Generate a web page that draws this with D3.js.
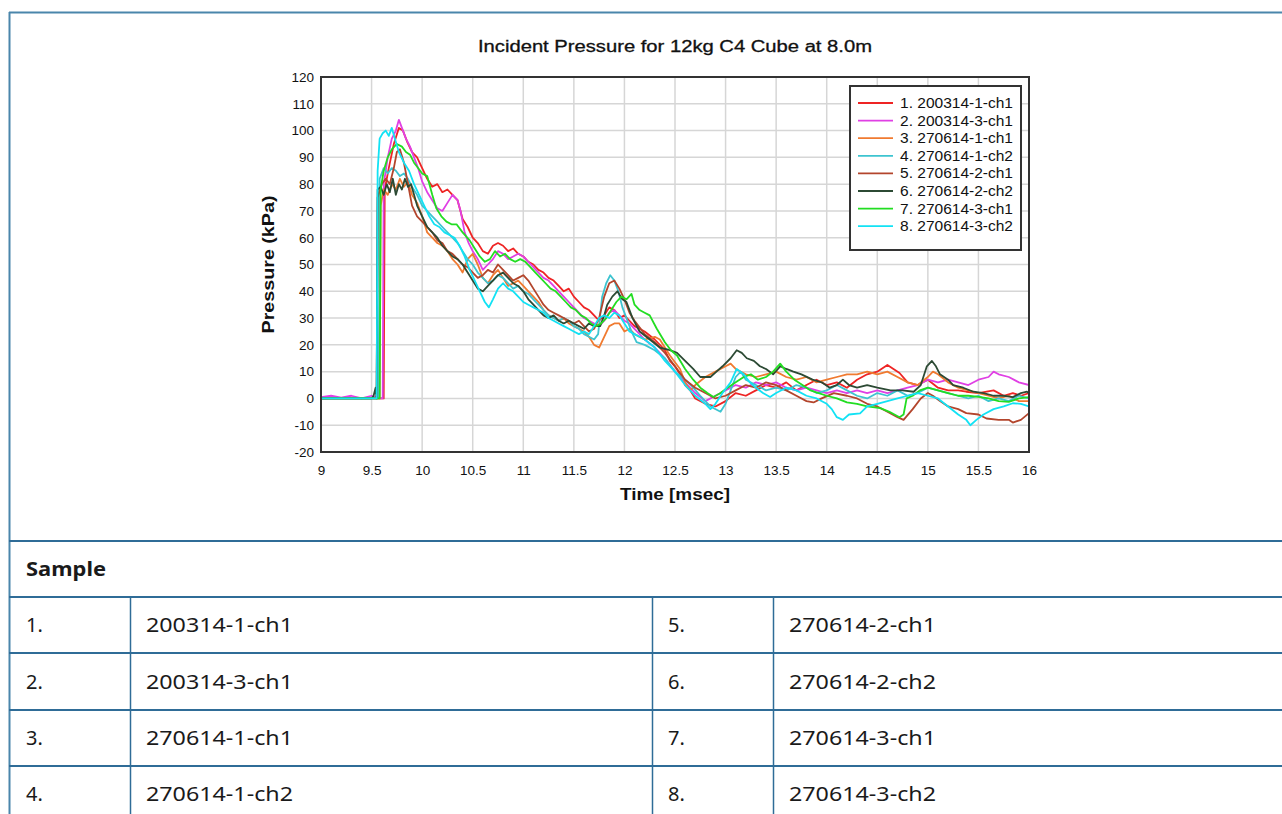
<!DOCTYPE html>
<meta charset="utf-8">
<style>
body { margin: 0; background: #fff; }
svg { display: block; }
.chart text { font-family: "Liberation Sans", Arial, sans-serif; fill: #111; }
.table text { font-family: "Noto Sans", "Open Sans", sans-serif; fill: #1a1a1a; }
.grid line { stroke: #d6d6d6; stroke-width: 1.5px; }
.series path { fill: none; stroke-width: 1.8px; stroke-linejoin: round; }
</style>
<svg width="1282" height="814"></svg>
<script src="https://d3js.org/d3.v7.min.js"></script>
<script>

const sampleNames = ["200314-1-ch1", "200314-3-ch1", "270614-1-ch1", "270614-1-ch2",
  "270614-2-ch1", "270614-2-ch2", "270614-3-ch1", "270614-3-ch2"];
const sampleColors = ["#ee2424", "#e040e4", "#f07a30", "#3ec4d0", "#b3452c", "#2c4a34", "#22dd22", "#12e2f4"];

const xTicks = [9, 9.5, 10, 10.5, 11, 11.5, 12, 12.5, 13, 13.5, 14, 14.5, 15, 15.5, 16];
const yTicks = [-20, -10, 0, 10, 20, 30, 40, 50, 60, 70, 80, 90, 100, 110, 120];

// [time msec, pressure kPa]
const s1 = [[9,0],[9.3,0.3],[9.6,0],[9.62,0],[9.63,78],[9.67,86],[9.72,95],[9.77,101],[9.81,100],[9.85,96],[9.9,92],[9.95,90],[10.0,86],[10.05,82],[10.1,79],[10.15,80],[10.2,77],[10.25,78],[10.3,76],[10.35,74],[10.4,67],[10.45,64],[10.5,60],[10.55,58],[10.6,55],[10.65,54],[10.7,57],[10.75,58],[10.8,57],[10.85,55],[10.9,56],[10.95,54],[11.0,53],[11.05,51],[11.1,50],[11.15,48],[11.2,47],[11.25,45],[11.3,44],[11.35,42],[11.4,40],[11.45,41],[11.5,38],[11.55,36],[11.6,34],[11.65,33],[11.7,31],[11.75,29],[11.8,31],[11.85,34],[11.9,33],[11.95,30],[12.0,31],[12.05,29],[12.1,27],[12.2,25],[12.3,22],[12.4,18],[12.45,14],[12.5,12],[12.55,9],[12.6,5],[12.65,3],[12.7,0],[12.8,-2],[12.9,-3],[13.0,-1],[13.1,2],[13.2,1],[13.3,3],[13.4,5],[13.5,4],[13.6,6],[13.7,3],[13.8,5],[13.9,7],[14.0,5],[14.1,6],[14.2,4],[14.3,7],[14.4,9],[14.5,10],[14.6,12.5],[14.66,11],[14.72,9.5],[14.8,6],[14.9,5],[15.0,7],[15.1,4],[15.2,3],[15.3,3],[15.38,2.5],[15.5,2],[15.65,3],[15.75,1],[15.84,2],[15.92,1],[16.0,2]];
const s2 = [[9,0.5],[9.1,1],[9.2,0.3],[9.3,1],[9.4,0],[9.5,1],[9.58,0],[9.61,0],[9.62,80],[9.66,90],[9.7,97],[9.74,100],[9.77,104],[9.8,101],[9.84,97],[9.88,94],[9.92,90],[9.96,86],[10.0,81],[10.05,77],[10.1,74],[10.15,71],[10.2,70],[10.25,73],[10.3,76],[10.35,74],[10.38,70],[10.42,62],[10.46,58],[10.5,55],[10.55,52],[10.6,48],[10.65,50],[10.7,52],[10.75,55],[10.8,54],[10.85,52],[10.9,53],[10.95,54],[11.0,53],[11.05,51],[11.1,49],[11.15,47],[11.2,45],[11.25,44],[11.3,42],[11.35,40],[11.4,38],[11.45,36],[11.5,34],[11.55,32],[11.6,30],[11.65,29],[11.7,28],[11.75,27],[11.8,29],[11.85,32],[11.9,33],[11.95,31],[12.0,29],[12.05,28],[12.1,26],[12.2,22],[12.3,19],[12.4,15],[12.5,10],[12.6,6],[12.7,2],[12.8,-1],[12.9,1],[13.0,3],[13.1,5],[13.2,4],[13.3,6],[13.4,5],[13.5,6],[13.6,4],[13.7,3],[13.8,4],[13.9,3],[14.0,2],[14.1,3],[14.2,2],[14.3,3],[14.4,2],[14.5,3],[14.6,2],[14.7,3],[14.8,4],[14.9,5],[15.0,7],[15.1,6],[15.2,7],[15.3,6],[15.4,5],[15.5,7],[15.6,8],[15.65,10],[15.7,9],[15.8,8],[15.9,6],[16.0,5]];
const s3 = [[9,0],[9.5,0],[9.58,0],[9.59,72],[9.62,78],[9.66,76],[9.7,80],[9.74,78],[9.78,82],[9.82,79],[9.86,81],[9.9,76],[9.95,73],[10.0,68],[10.05,62],[10.1,60],[10.15,58],[10.2,57],[10.25,55],[10.3,52],[10.35,50],[10.4,47],[10.45,52],[10.5,54],[10.55,50],[10.6,45],[10.65,43],[10.7,46],[10.75,48],[10.8,45],[10.85,42],[10.9,43],[10.95,44],[11.0,42],[11.05,40],[11.1,38],[11.15,36],[11.2,33],[11.25,31],[11.3,30],[11.35,29],[11.4,30],[11.45,28],[11.5,27],[11.55,26],[11.6,25],[11.65,23],[11.7,20],[11.75,19],[11.8,23],[11.85,27],[11.9,28],[11.95,28],[12.0,25],[12.05,26],[12.1,24],[12.2,22],[12.3,23],[12.35,22],[12.45,16],[12.55,11],[12.6,6],[12.65,3],[12.7,5],[12.8,8],[12.9,10],[13.0,12],[13.05,13],[13.1,11],[13.2,9],[13.3,8],[13.4,9],[13.5,10],[13.6,8],[13.7,7],[13.8,8],[13.9,6],[14.0,7],[14.1,8],[14.2,9],[14.3,9],[14.4,10],[14.5,9],[14.6,10],[14.7,8],[14.8,6],[14.9,5],[15.0,8],[15.05,10],[15.1,9],[15.2,6],[15.3,4],[15.4,3],[15.5,2],[15.6,1],[15.7,0],[15.8,1],[15.9,-1],[16.0,-1]];
const s4 = [[9,0],[9.5,0],[9.57,0],[9.58,82],[9.62,86],[9.66,84],[9.7,86],[9.74,85],[9.78,83],[9.82,84],[9.86,82],[9.9,79],[9.95,76],[10.0,72],[10.05,70],[10.1,68],[10.15,66],[10.2,64],[10.25,62],[10.3,60],[10.35,58],[10.4,55],[10.45,52],[10.5,50],[10.55,47],[10.6,45],[10.65,43],[10.7,44],[10.75,46],[10.8,45],[10.85,43],[10.9,41],[10.95,42],[11.0,40],[11.05,39],[11.1,37],[11.15,35],[11.2,33],[11.25,31],[11.3,30],[11.35,29],[11.4,30],[11.45,29],[11.5,27],[11.55,26],[11.6,24],[11.65,23],[11.7,22],[11.74,24],[11.78,38],[11.82,43],[11.86,46],[11.9,44],[11.94,40],[11.98,34],[12.02,30],[12.07,25],[12.12,21],[12.2,20],[12.3,18],[12.4,15],[12.5,10],[12.6,7],[12.68,4],[12.75,1],[12.85,-3],[12.95,-5],[13.0,-2],[13.05,3],[13.1,8],[13.15,10],[13.2,7],[13.3,5],[13.4,3],[13.5,4],[13.6,3],[13.7,5],[13.8,4],[13.9,2],[14.0,3],[14.1,5],[14.2,3],[14.3,1],[14.4,0],[14.5,2],[14.6,1],[14.7,3],[14.8,1],[14.9,2],[15.0,4],[15.1,3],[15.2,2],[15.3,1],[15.4,0],[15.5,1],[15.6,-1],[15.7,0],[15.8,-1],[15.9,1],[16.0,0]];
const s5 = [[9,0],[9.5,0],[9.55,0],[9.56,75],[9.6,80],[9.64,82],[9.68,80],[9.72,86],[9.75,92],[9.78,93],[9.82,88],[9.86,80],[9.9,72],[9.95,68],[10.0,66],[10.05,64],[10.1,62],[10.15,59],[10.2,58],[10.25,55],[10.3,54],[10.35,52],[10.4,50],[10.45,49],[10.5,47],[10.55,45],[10.6,46],[10.65,48],[10.7,47],[10.75,50],[10.8,48],[10.85,46],[10.9,44],[10.95,45],[11.0,46],[11.05,44],[11.1,41],[11.15,38],[11.2,35],[11.25,33],[11.3,32],[11.35,31],[11.4,30],[11.45,29],[11.5,28],[11.55,29],[11.6,27],[11.65,25],[11.7,26],[11.75,30],[11.8,38],[11.85,43],[11.9,44],[11.95,41],[12.0,37],[12.05,32],[12.1,29],[12.2,24],[12.3,21],[12.4,17],[12.5,12],[12.6,7],[12.7,4],[12.8,2],[12.9,0],[13.0,1],[13.1,3],[13.2,5],[13.3,4],[13.4,6],[13.5,5],[13.6,3],[13.7,1],[13.8,-1],[13.87,-1.5],[13.95,0],[14.07,2],[14.2,1],[14.3,0],[14.4,-2],[14.5,-3],[14.6,-5],[14.7,-7],[14.76,-8],[14.85,-4],[14.93,0],[15.0,2],[15.05,1],[15.12,-1],[15.2,-3],[15.3,-4],[15.38,-5.5],[15.5,-6],[15.58,-7.5],[15.7,-8],[15.8,-8],[15.84,-9],[15.92,-8],[16.0,-5.5]];
const s6 = [[9,0],[9.3,0],[9.5,0],[9.52,1],[9.54,4],[9.55,0],[9.56,78],[9.59,79],[9.62,76],[9.65,80],[9.68,77],[9.71,82],[9.74,76],[9.77,80],[9.8,78],[9.83,82],[9.86,79],[9.89,80],[9.92,76],[9.95,72],[10.0,68],[10.05,64],[10.1,62],[10.15,60],[10.2,57],[10.25,55],[10.3,53],[10.35,52],[10.4,50],[10.45,47],[10.5,44],[10.55,41],[10.6,40],[10.65,42],[10.7,44],[10.75,46],[10.8,47],[10.85,45],[10.9,43],[10.95,42],[11.0,40],[11.05,37],[11.1,35],[11.15,33],[11.2,31],[11.25,30],[11.3,31],[11.35,29],[11.4,28],[11.45,29],[11.5,28],[11.55,27],[11.6,26],[11.65,28],[11.7,27],[11.76,27],[11.8,31],[11.83,35],[11.88,38],[11.93,40],[11.98,37],[12.02,36],[12.08,30],[12.15,25],[12.25,22],[12.35,19],[12.45,18],[12.52,17],[12.6,14],[12.68,11],[12.75,8],[12.85,8],[12.91,10],[12.97,12],[13.05,15],[13.11,18],[13.16,17],[13.21,15],[13.28,14],[13.34,12],[13.4,11],[13.47,9],[13.54,12],[13.6,11],[13.67,10],[13.75,9],[13.86,7],[13.95,6],[14.03,4],[14.1,5],[14.16,7],[14.22,5],[14.3,4],[14.4,5],[14.5,4],[14.63,3],[14.75,3],[14.86,2.5],[14.93,5],[14.99,12],[15.04,14],[15.08,12],[15.12,9],[15.2,7],[15.25,5],[15.35,4],[15.45,2.5],[15.55,2],[15.65,1],[15.75,1],[15.84,0.5],[15.92,2],[15.98,2.5],[16.0,2]];
const s7 = [[9,0],[9.5,0],[9.58,0],[9.59,78],[9.62,85],[9.66,90],[9.7,93],[9.75,95],[9.8,94],[9.84,92],[9.88,91],[9.92,88],[9.96,86],[10.0,84],[10.05,83],[10.1,76],[10.14,71],[10.19,68],[10.24,66],[10.29,65],[10.34,65],[10.4,62],[10.47,59],[10.52,56],[10.57,53],[10.62,51],[10.67,52],[10.72,55],[10.77,53],[10.82,54],[10.87,52],[10.92,51],[10.97,52],[11.02,51],[11.07,49],[11.12,47],[11.17,45],[11.22,43],[11.27,41],[11.32,40],[11.37,38],[11.42,36],[11.47,34],[11.52,33],[11.57,31],[11.62,30],[11.67,28],[11.72,27],[11.77,28],[11.82,30],[11.87,33],[11.92,36],[11.97,38],[12.02,37],[12.07,39],[12.1,35],[12.15,33],[12.2,32],[12.25,31],[12.32,26],[12.4,21],[12.46,18],[12.52,16],[12.6,11],[12.68,7],[12.75,4],[12.82,2],[12.88,0.5],[12.95,2],[13.02,4],[13.1,6],[13.18,8],[13.25,9],[13.32,7],[13.4,8],[13.47,10],[13.54,13],[13.6,10],[13.68,7],[13.76,5],[13.84,3],[13.92,2],[14.0,1],[14.1,0],[14.2,-1.5],[14.3,-2],[14.4,-3],[14.53,-3.6],[14.62,-5],[14.72,-7],[14.76,-6],[14.79,0],[14.85,1],[14.92,3],[15.0,4],[15.1,3],[15.2,2],[15.3,1],[15.4,1],[15.52,0.5],[15.6,0],[15.7,-1],[15.8,-1.3],[15.9,0],[16.0,0.5]];
const s8 = [[9,0],[9.5,0],[9.55,0],[9.56,85],[9.58,97],[9.61,99],[9.64,100],[9.67,98],[9.7,101],[9.73,97],[9.77,92],[9.82,88],[9.87,85],[9.92,80],[9.97,76],[10.02,72],[10.07,68],[10.12,65],[10.17,64],[10.22,62],[10.27,61],[10.32,60],[10.37,57],[10.42,53],[10.47,48],[10.52,44],[10.57,40],[10.62,36],[10.66,34],[10.7,37],[10.75,41],[10.8,43],[10.85,41],[10.9,40],[10.95,38],[11.0,36],[11.05,35],[11.1,34],[11.15,33],[11.2,32],[11.25,30],[11.3,29],[11.35,28],[11.4,27],[11.45,26],[11.5,25],[11.55,24],[11.6,25],[11.65,24],[11.7,27],[11.75,30],[11.8,31],[11.85,30],[11.9,32],[11.95,31],[12.0,28],[12.05,25],[12.1,24],[12.2,22],[12.3,19],[12.4,14],[12.5,10],[12.6,5],[12.7,1],[12.8,-2],[12.85,-4],[12.9,-2],[12.97,2],[13.05,6],[13.11,11],[13.18,9],[13.24,6],[13.3,4],[13.37,2],[13.44,0.5],[13.5,2],[13.6,4],[13.7,3],[13.8,1],[13.9,0],[14.0,-2],[14.05,-4],[14.1,-7],[14.16,-8],[14.22,-6],[14.33,-5.6],[14.4,-3],[14.5,-2],[14.6,-1],[14.7,0],[14.8,1],[14.9,2],[15.0,1],[15.1,0],[15.2,-3],[15.3,-6],[15.38,-8],[15.42,-10],[15.48,-8],[15.55,-6],[15.65,-4],[15.75,-3],[15.84,-1.8],[15.92,-2],[16.0,-3]];
const seriesData = [s1, s2, s3, s4, s5, s6, s7, s8];

const svg = d3.select("svg");

// outer frame of the page block
const frameColor = "#4a86ab";
svg.append("line").attr("x1", 9).attr("x2", 1282).attr("y1", 12.5).attr("y2", 12.5)
  .attr("stroke", frameColor).attr("stroke-width", 2);
svg.append("line").attr("x1", 9.5).attr("x2", 9.5).attr("y1", 12).attr("y2", 814)
  .attr("stroke", frameColor).attr("stroke-width", 2);

// chart
const plotLeft = 321, plotRight = 1029, plotTop = 77, plotBottom = 452;
const x = d3.scaleLinear().domain([9, 16]).range([plotLeft, plotRight]);
const y = d3.scaleLinear().domain([-20, 120]).range([plotBottom, plotTop]);

const chart = svg.append("g").attr("class", "chart");

chart.append("text")
  .attr("x", (plotLeft + plotRight) / 2).attr("y", 52)
  .attr("text-anchor", "middle")
  .attr("font-size", "16px")
  .attr("stroke", "#111").attr("stroke-width", 0.3)
  .attr("textLength", 394).attr("lengthAdjust", "spacingAndGlyphs")
  .text("Incident Pressure for 12kg C4 Cube at 8.0m");

const grid = chart.append("g").attr("class", "grid");
grid.selectAll("line.v").data(xTicks.slice(1, -1)).enter().append("line")
  .attr("x1", d => x(d)).attr("x2", d => x(d)).attr("y1", plotTop).attr("y2", plotBottom);
grid.selectAll("line.h").data(yTicks.slice(1, -1)).enter().append("line")
  .attr("x1", plotLeft).attr("x2", plotRight).attr("y1", d => y(d)).attr("y2", d => y(d));

const xAxis = chart.append("g").attr("transform", `translate(0,${plotBottom})`)
  .call(d3.axisBottom(x).tickValues(xTicks).tickSize(0).tickPadding(13).tickFormat(d => String(d)));
const yAxis = chart.append("g").attr("transform", `translate(${plotLeft},0)`)
  .call(d3.axisLeft(y).tickValues(yTicks).tickSize(0).tickPadding(7).tickFormat(d => String(d)));
[xAxis, yAxis].forEach(a => {
  a.select(".domain").remove();
  a.selectAll("text").attr("font-size", "13.5px").attr("font-family", "Liberation Sans, Arial, sans-serif").attr("fill", "#111");
});

chart.append("clipPath").attr("id", "plot-clip").append("rect")
  .attr("x", plotLeft).attr("y", plotTop).attr("width", plotRight - plotLeft).attr("height", plotBottom - plotTop);

const line = d3.line().x(d => x(d[0])).y(d => y(d[1]));
chart.append("g").attr("class", "series").attr("clip-path", "url(#plot-clip)")
  .selectAll("path").data(seriesData).enter().append("path")
  .attr("stroke", (d, i) => sampleColors[i])
  .attr("d", line);

chart.append("rect")
  .attr("x", plotLeft).attr("y", plotTop).attr("width", plotRight - plotLeft).attr("height", plotBottom - plotTop)
  .attr("fill", "none").attr("stroke", "#333").attr("stroke-width", 2);

chart.append("text")
  .attr("transform", `translate(274,${(plotTop + plotBottom) / 2}) rotate(-90)`)
  .attr("text-anchor", "middle").attr("font-size", "17px").attr("font-weight", "bold")
  .attr("textLength", 138).attr("lengthAdjust", "spacingAndGlyphs")
  .text("Pressure (kPa)");
chart.append("text")
  .attr("x", (plotLeft + plotRight) / 2).attr("y", 500)
  .attr("text-anchor", "middle").attr("font-size", "17px").attr("font-weight", "bold")
  .attr("textLength", 110).attr("lengthAdjust", "spacingAndGlyphs")
  .text("Time [msec]");

// legend
const legend = chart.append("g");
legend.append("rect").attr("x", 850).attr("y", 86).attr("width", 171).attr("height", 164)
  .attr("fill", "#fff").attr("stroke", "#333").attr("stroke-width", 2);
const item = legend.selectAll("g.item").data(sampleNames).enter().append("g")
  .attr("transform", (d, i) => `translate(0,${103 + i * 17.6})`);
item.append("line").attr("x1", 858).attr("x2", 893).attr("y1", 0).attr("y2", 0)
  .attr("stroke", (d, i) => sampleColors[i]).attr("stroke-width", 1.8);
item.append("text").attr("x", 900).attr("y", 0).attr("dy", "0.35em")
  .attr("font-size", "14.5px")
  .attr("textLength", 113).attr("lengthAdjust", "spacingAndGlyphs")
  .text((d, i) => `${i + 1}. ${d}`);

// sample table
const table = svg.append("g").attr("class", "table");
const lineColor = "#2f6c97";
const rowLines = [541, 597, 653, 710, 766];
table.selectAll("line.row").data(rowLines).enter().append("line")
  .attr("x1", 9).attr("x2", 1282).attr("y1", d => d).attr("y2", d => d)
  .attr("stroke", lineColor).attr("stroke-width", 2);
table.selectAll("line.col").data([130.5, 652.5, 773.5]).enter().append("line")
  .attr("x1", d => d).attr("x2", d => d).attr("y1", 597).attr("y2", 814)
  .attr("stroke", lineColor).attr("stroke-width", 1.5);

table.append("text").attr("x", 26).attr("y", 569).attr("dy", "0.35em")
  .attr("font-size", "20px").attr("font-weight", "bold")
  .attr("textLength", 80).attr("lengthAdjust", "spacingAndGlyphs").text("Sample");

const rows = table.selectAll("g.r").data(d3.range(4)).enter().append("g")
  .attr("transform", d => `translate(0,${(rowLines[d + 1] + (rowLines[d + 2] || 822)) / 2})`);
rows.append("text").attr("x", 26).attr("dy", "0.35em").attr("font-size", "20px").text(d => `${d + 1}.`);
rows.append("text").attr("x", 146).attr("dy", "0.35em").attr("font-size", "20px")
  .attr("textLength", 147).attr("lengthAdjust", "spacingAndGlyphs").text(d => sampleNames[d]);
rows.append("text").attr("x", 668).attr("dy", "0.35em").attr("font-size", "20px").text(d => `${d + 5}.`);
rows.append("text").attr("x", 789).attr("dy", "0.35em").attr("font-size", "20px")
  .attr("textLength", 147).attr("lengthAdjust", "spacingAndGlyphs").text(d => sampleNames[d + 4]);

</script>
